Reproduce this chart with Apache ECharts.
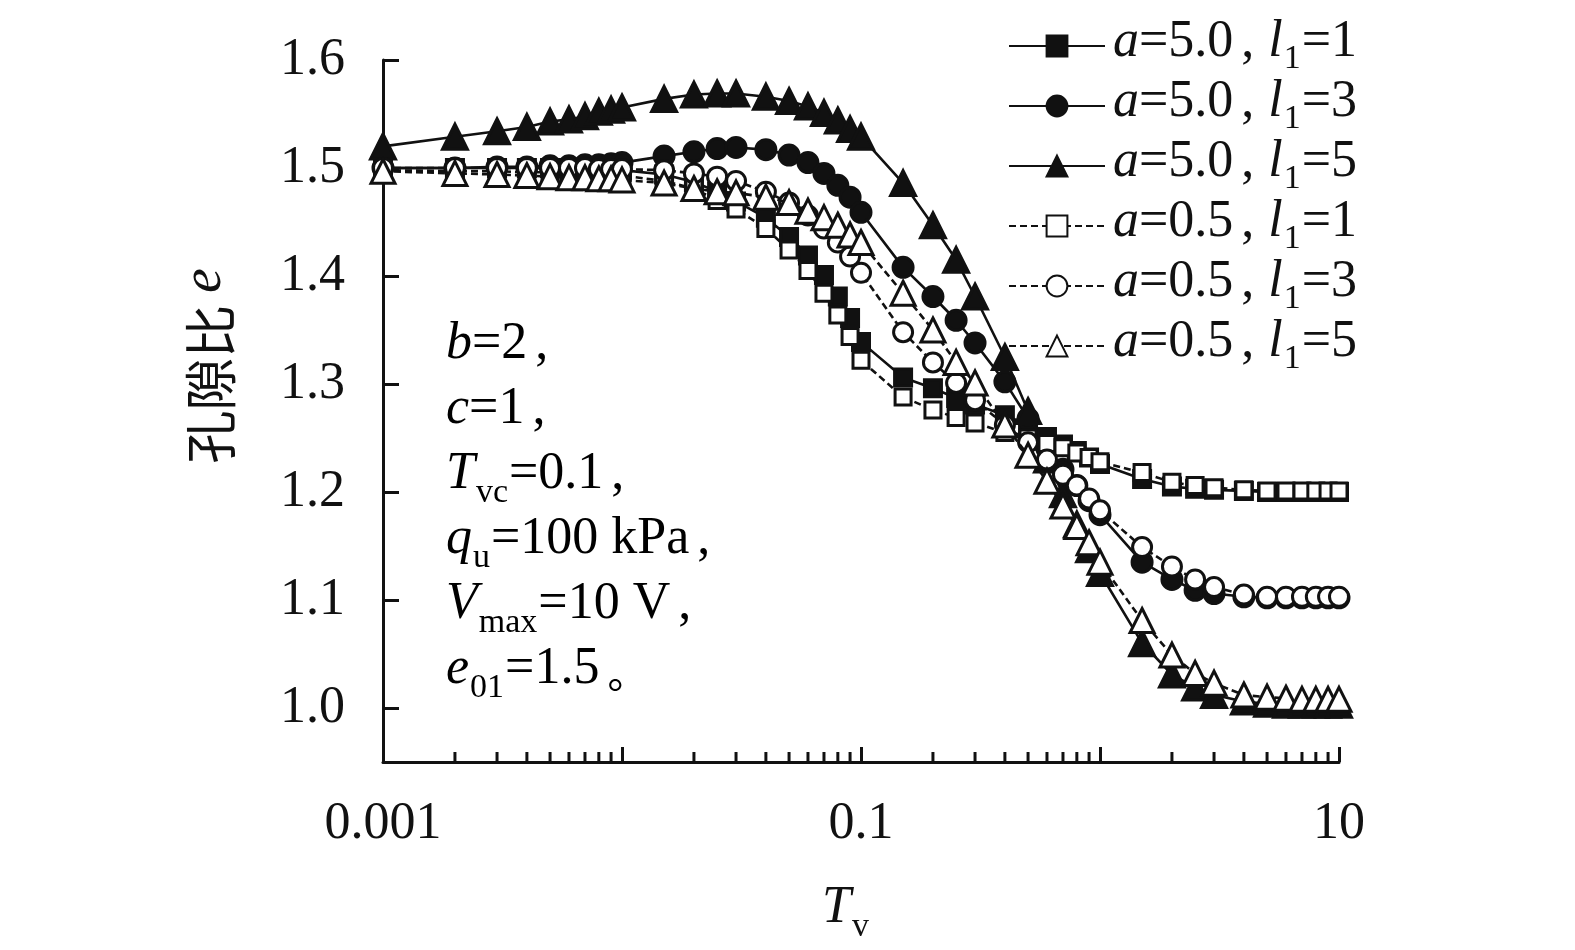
<!DOCTYPE html>
<html>
<head>
<meta charset="utf-8">
<script src="https://cdn.jsdelivr.net/npm/echarts@6/dist/echarts.min.js"></script>
<style>html,body{margin:0;padding:0;background:#fff;}#c{width:1575px;height:950px;}</style>
</head>
<body>
<div id="c"></div>
<script>
// ---- data ----
const Tv = [0.001,0.002,0.003,0.004,0.005,0.006,0.007,0.008,0.009,
  0.01,0.015,0.02,0.025,0.03,0.04,0.05,0.06,0.07,0.08,0.09,
  0.1,0.15,0.2,0.25,0.3,0.4,0.5,0.6,0.7,0.8,0.9,
  1,1.5,2,2.5,3,4,5,6,7,8,9,10];

const e_a50_l1 = [1.500,1.500,1.500,1.500,1.500,1.500,1.499,1.499,1.499,
  1.498,1.494,1.487,1.478,1.469,1.454,1.436,1.419,1.401,1.381,1.361,
  1.339,1.306,1.296,1.287,1.281,1.271,1.262,1.251,1.244,1.238,1.232,
  1.226,1.212,1.205,1.203,1.202,1.201,1.200,1.200,1.200,1.200,1.200,1.200];
const e_a50_l3 = [1.500,1.500,1.501,1.501,1.502,1.502,1.503,1.503,1.504,
  1.505,1.511,1.515,1.518,1.519,1.517,1.512,1.505,1.495,1.484,1.473,
  1.459,1.408,1.381,1.359,1.338,1.302,1.268,1.240,1.221,1.206,1.192,
  1.179,1.135,1.119,1.109,1.106,1.103,1.102,1.102,1.102,1.102,1.102,1.102];
const e_a50_l5 = [1.520,1.529,1.534,1.538,1.543,1.545,1.548,1.552,1.554,
  1.556,1.564,1.568,1.569,1.569,1.566,1.562,1.557,1.551,1.544,1.536,
  1.529,1.486,1.447,1.415,1.381,1.325,1.275,1.230,1.198,1.170,1.147,
  1.125,1.060,1.031,1.019,1.012,1.006,1.004,1.003,1.003,1.003,1.003,1.003];
const e_a05_l1 = [1.498,1.497,1.497,1.496,1.496,1.495,1.495,1.494,1.494,
  1.493,1.488,1.481,1.470,1.462,1.444,1.424,1.405,1.384,1.364,1.344,
  1.322,1.288,1.276,1.269,1.264,1.255,1.250,1.245,1.241,1.236,1.232,
  1.228,1.218,1.209,1.206,1.204,1.202,1.201,1.201,1.201,1.201,1.201,1.201];
const e_a05_l3 = [1.500,1.500,1.500,1.500,1.500,1.500,1.500,1.499,1.499,
  1.499,1.498,1.495,1.492,1.488,1.478,1.468,1.456,1.444,1.431,1.418,
  1.403,1.348,1.320,1.301,1.285,1.262,1.246,1.230,1.216,1.206,1.194,
  1.183,1.149,1.131,1.119,1.112,1.105,1.103,1.103,1.103,1.103,1.103,1.103];
const e_a05_l5 = [1.497,1.495,1.494,1.493,1.492,1.491,1.491,1.490,1.490,
  1.489,1.486,1.481,1.478,1.477,1.473,1.468,1.460,1.454,1.447,1.438,
  1.431,1.384,1.350,1.320,1.301,1.262,1.234,1.210,1.187,1.168,1.153,
  1.135,1.081,1.049,1.032,1.023,1.012,1.010,1.009,1.008,1.008,1.008,1.008];

const seriesNames = ['a=5.0, l1=1','a=5.0, l1=3','a=5.0, l1=5','a=0.5, l1=1','a=0.5, l1=3','a=0.5, l1=5'];
const xTickLabels = ['0.001','0.1','10'];
const xDecades = [0.001,0.01,0.1,1];
const minorMultipliers = [2,3,4,5,6,7,8,9];
const annotationLines = [
  '{i|b}{n|=2}{m|,}',
  '{i|c}{n|=1}{m|,}',
  '{i|T}{s|vc}{n|=0.1}{m|,}',
  '{i|q}{s|u}{n|=100 kPa}{m|,}',
  '{i|V}{s|max}{n|=10 V}{m|,}',
  '{i|e}{s|01}{n|=1.5}{p|。}'
];

// ---- chart ----
const SERIF = 'Liberation Serif, Times New Roman, serif';
const INK = '#111';
const yMin = 0.95, yMax = 1.6;
const FS = 52;

const minorTicks = [];
xDecades.forEach(d => minorMultipliers.forEach(m => minorTicks.push([d * m, yMin])));

const richMain = {
  i: {fontFamily: SERIF, fontStyle: 'italic', fontSize: FS, color: INK, verticalAlign: 'bottom', padding: [0,0,10,0]},
  n: {fontFamily: SERIF, fontSize: FS, color: INK, verticalAlign: 'bottom', padding: [0,0,10,0]},
  m: {fontFamily: SERIF, fontSize: FS, color: INK, verticalAlign: 'bottom', padding: [0,14,10,8]},
  s: {fontFamily: SERIF, fontSize: 34, color: INK, verticalAlign: 'bottom', padding: [0,1,0,1]},
  p: {fontFamily: 'Noto Sans CJK SC', fontSize: 40, color: INK, verticalAlign: 'bottom', padding: [0,0,12,8]},
  c: {fontFamily: 'Noto Sans CJK SC', fontSize: 53, color: INK, verticalAlign: 'bottom', padding: [0,0,6,0]},
  e: {fontFamily: SERIF, fontStyle: 'italic', fontSize: 56, color: INK, verticalAlign: 'bottom', padding: [0,0,10,0]}
};
const richLegend = {
  i: {fontFamily: SERIF, fontStyle: 'italic', fontSize: FS, color: INK, verticalAlign: 'bottom', padding: [0,0,8,0]},
  n: {fontFamily: SERIF, fontSize: FS, color: INK, verticalAlign: 'bottom', padding: [0,0,8,0]},
  m: {fontFamily: SERIF, fontSize: FS, color: INK, verticalAlign: 'bottom', padding: [0,14,8,8]},
  s: {fontFamily: SERIF, fontSize: 34, color: INK, verticalAlign: 'bottom', padding: [0,1,0,1]}
};

const styles = [
  {symbol: 'rect', size: 17, fill: INK, dash: 'solid'},
  {symbol: 'circle', size: 20, fill: INK, dash: 'solid'},
  {symbol: 'triangle', size: 25, fill: INK, dash: 'solid'},
  {symbol: 'rect', size: 16, fill: '#fff', dash: [7,4]},
  {symbol: 'circle', size: 19, fill: '#fff', dash: [7,4]},
  {symbol: 'triangle', size: 24, fill: '#fff', dash: [7,4]}
];
const values = [e_a50_l1, e_a50_l3, e_a50_l5, e_a05_l1, e_a05_l3, e_a05_l5];

const lineSeries = seriesNames.map((name, k) => ({
  name: name,
  type: 'line',
  data: Tv.map((t, i) => [t, values[k][i]]),
  symbol: styles[k].symbol,
  symbolSize: styles[k].size,
  showAllSymbol: true,
  lineStyle: {color: INK, width: 2.6, type: styles[k].dash},
  itemStyle: {color: styles[k].fill, borderColor: INK, borderWidth: 3},
  z: 3 + k,
  animation: false
}));

const chart = echarts.init(document.getElementById('c'), null, {renderer: 'canvas'});
chart.setOption({
  backgroundColor: '#fff',
  animation: false,
  grid: {left: 383, right: 236, top: 60, bottom: 188, containLabel: false},
  xAxis: {
    type: 'log', logBase: 10, min: 0.001, max: 10,
    name: '{i|T}{s|v}',
    nameLocation: 'middle', nameGap: 120,
    nameTextStyle: {rich: richMain, padding: [0, 30, 0, 0]},
    axisLine: {lineStyle: {color: INK, width: 3}},
    axisTick: {inside: true, length: 15, lineStyle: {color: INK, width: 3}},
    splitLine: {show: false},
    minorTick: {show: false},
    axisLabel: {
      fontFamily: SERIF, fontSize: FS, color: INK, margin: 36,
      formatter: v => {
        const hit = xTickLabels.find(t => Math.abs(Math.log10(v) - Math.log10(parseFloat(t))) < 1e-6);
        return hit || '';
      }
    }
  },
  yAxis: {
    type: 'value', min: yMin, max: yMax, splitNumber: 6,
    name: '{c|孔隙比 }{e|e}',
    nameLocation: 'middle', nameRotate: 90, nameGap: 140,
    nameTextStyle: {rich: richMain, padding: [0, 0, 0, 90]},
    axisLine: {lineStyle: {color: INK, width: 3}},
    axisTick: {inside: true, length: 16, lineStyle: {color: INK, width: 3}},
    splitLine: {show: false},
    axisLabel: {
      fontFamily: SERIF, fontSize: FS, color: INK, margin: 38,
      formatter: v => {
        const r = Math.round(v * 10) / 10;
        return Math.abs(v - r) < 1e-6 ? r.toFixed(1) : '';
      }
    }
  },
  legend: {
    data: seriesNames,
    orient: 'vertical', left: 1003, top: 11,
    itemWidth: 96, itemHeight: 26, itemGap: 0,
    textStyle: {fontFamily: SERIF, fontSize: FS, color: INK, rich: richLegend, padding: [0,0,0,3]},
    formatter: name => {
      const m = name.match(/a=(.*), l1=(.*)/);
      return '{i|a}{n|=' + m[1] + '}{m|,}{i|l}{s|1}{n|=' + m[2] + '}';
    },
    selectedMode: false
  },
  graphic: annotationLines.map((t, k) => ({
    type: 'text', x: 446, y: 349 + k * 65, silent: true,
    style: {text: t, rich: richMain, verticalAlign: 'middle', align: 'left'}
  })),
  series: lineSeries.concat([{
    type: 'custom',
    name: 'minorTicks',
    silent: true,
    data: minorTicks,
    renderItem: (params, api) => {
      const p = api.coord([api.value(0), api.value(1)]);
      return {type: 'line', shape: {x1: p[0], y1: p[1], x2: p[0], y2: p[1] - 10},
              style: {stroke: INK, lineWidth: 3}};
    },
    z: 2
  }])
});
</script>
</body>
</html>
